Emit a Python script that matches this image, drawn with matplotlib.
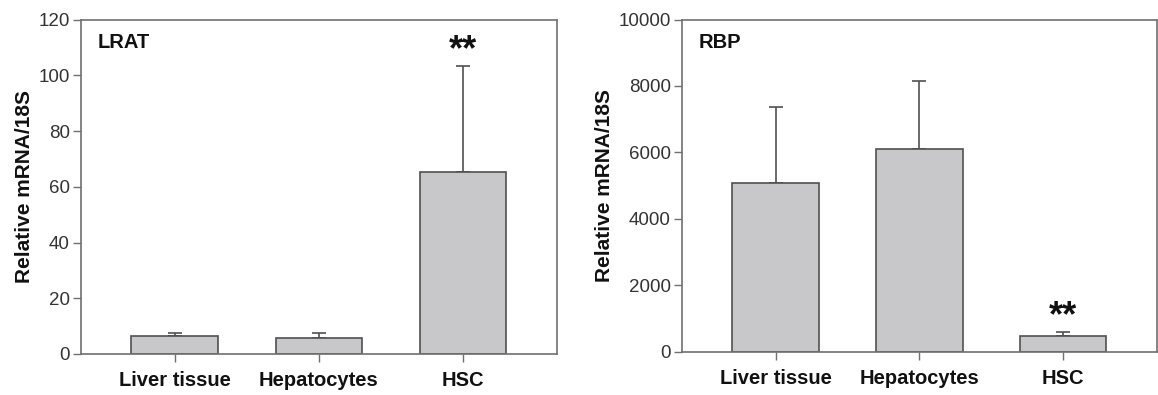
import matplotlib
matplotlib.use("Agg")
import matplotlib.pyplot as plt

plt.rcParams['font.family'] = ['Liberation Sans', 'DejaVu Sans']

categories = ["Liver tissue", "Hepatocytes", "HSC"]

lrat_mean = [6.3, 5.6, 65.4]
lrat_err = [1.1, 2.1, 38.1]

rbp_mean = [5080, 6110, 480]
rbp_err = [2300, 2040, 120]

bar_fill = "#c8c8ca"
edge = "#505050"
spine_col = "#707070"
tick_col = "#333333"

fig = plt.figure(figsize=(11.58, 3.95), dpi=100)
ax1 = fig.add_axes([0.0699, 0.1038, 0.411, 0.8468])
ax2 = fig.add_axes([0.589, 0.1090, 0.410, 0.8416])


def draw_panel(ax, means, errs, ymax, yticks, name, star_y):
    x = list(range(len(categories)))
    ax.bar(x, means, width=0.6, color=bar_fill, edgecolor=edge, linewidth=1.2, zorder=2)
    ax.errorbar(x, means, yerr=[[0] * len(errs), errs], fmt="none",
                ecolor=edge, elinewidth=1.2, capsize=5, capthick=1.2, zorder=1)
    ax.set_xlim(-0.65, 2.65)
    ax.set_ylim(0, ymax)
    ax.set_yticks(yticks)
    ax.set_xticks(x)
    ax.set_xticklabels(categories, fontsize=14.5, fontweight="bold", color="#111111")
    ax.tick_params(axis="y", labelsize=13.5, labelcolor=tick_col, color=spine_col,
                   length=6, width=1, direction="out", pad=2)
    ax.tick_params(axis="x", color=spine_col, length=6, width=1, direction="out", pad=6)
    for sp in ax.spines.values():
        sp.set_color(spine_col)
        sp.set_linewidth(1.2)
    ax.set_ylabel("Relative mRNA/18S", fontsize=15, fontweight="bold", color="#111111",
                  labelpad=3)
    ax.text(0.035, 0.915, name, transform=ax.transAxes, fontsize=14.5,
            fontweight="bold", color="#111111", va="baseline")
    ax.text(2, star_y, "**", ha="center", va="center", fontsize=26,
            fontweight="bold", color="#111111")


draw_panel(ax1, lrat_mean, lrat_err, 120, [0, 20, 40, 60, 80, 100, 120], "LRAT", 109)
draw_panel(ax2, rbp_mean, rbp_err, 10000, [0, 2000, 4000, 6000, 8000, 10000], "RBP", 1060)

fig.savefig("out.png", dpi=100)
